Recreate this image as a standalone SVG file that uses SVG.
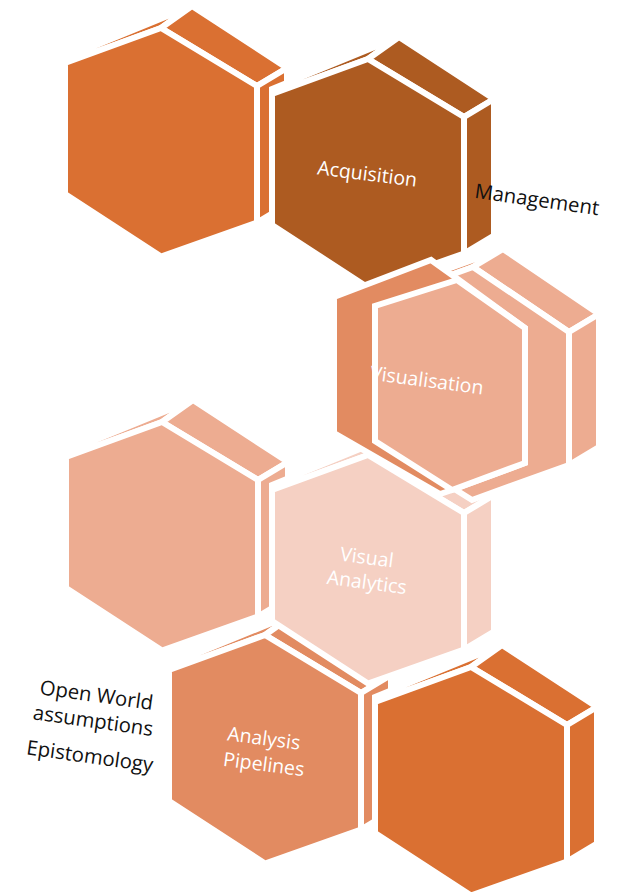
<svg xmlns="http://www.w3.org/2000/svg" xmlns:xlink="http://www.w3.org/1999/xlink" width="621" height="892" viewBox="0 0 621 892">
  <style>
    .face { stroke: #ffffff; stroke-width: 6; stroke-linejoin: miter; }
    .lbl { font-family: "Open Sans", "Noto Sans", "Liberation Sans", sans-serif; font-size: 19.5px; }
    .in { fill: #ffffff; text-anchor: middle; }
    .out { fill: #111111; font-size: 20.3px; }
  </style>
  <defs>
    <!-- hexagonal prism, origin at the top vertex of the front face -->
    <g id="prism" class="face">
      <polygon points="-96,32 0,-3 31,-25 -96,27"/>
      <polygon points="0,-3 96,55 126,37 31,-25"/>
      <polygon points="96,55 96,191.5 126,173.5 126,37"/>
      <polygon points="0,-3 96,55 96,191.5 0,225.5 -96,163 -96,32"/>
    </g>
  </defs>
  <rect width="621" height="892" fill="#ffffff"/>

  <g id="node-top-left">
    <use xlink:href="#prism" href="#prism" x="161" y="31" fill="#DA7032"/>
  </g>

  <g id="node-acquisition">
    <use xlink:href="#prism" href="#prism" x="368" y="62" fill="#AD5B21"/>
    <text class="lbl in" transform="translate(366.5,180.5) rotate(7.3)">Acquisition</text>
    <text class="lbl out" text-anchor="middle" transform="translate(536,206.5) rotate(8)">Management</text>
  </g>

  <g id="node-middle-left">
    <use xlink:href="#prism" href="#prism" x="162" y="425" fill="#EDAC91"/>
  </g>

  <g id="node-analysis-pipelines">
    <use xlink:href="#prism" href="#prism" x="265" y="638" fill="#E28B61"/>
    <text class="lbl in" transform="translate(263,745) rotate(7.5)">Analysis</text>
    <text class="lbl in" transform="translate(263,771) rotate(7.5)">Pipelines</text>
  </g>

  <g id="notes">
    <text class="lbl out" text-anchor="end" transform="translate(152,710) rotate(8)">Open World</text>
    <text class="lbl out" text-anchor="end" transform="translate(152,736) rotate(8)">assumptions</text>
    <text class="lbl out" text-anchor="end" transform="translate(152,772) rotate(8)">Epistomology</text>
  </g>

  <g id="node-bottom-right">
    <use xlink:href="#prism" href="#prism" x="471" y="670" fill="#DA7032"/>
  </g>

  <g id="node-visual-analytics">
    <use xlink:href="#prism" href="#prism" x="368" y="458" fill="#F5D0C3"/>
    <text class="lbl in" transform="translate(366,564) rotate(7.5)">Visual</text>
    <text class="lbl in" transform="translate(366,589) rotate(7.5)">Analytics</text>
  </g>

  <g id="node-visualisation" class="face">
    <!-- outer prism -->
    <polygon fill="#E28B61" points="376,302 473,267 503,249 406,284"/>
    <polygon fill="#EDAC91" points="473,267 569,332 599,314 503,249"/>
    <polygon fill="#EDAC91" points="569,332 569,465 599,447 599,314"/>
    <polygon fill="#EDAC91" points="473,267 569,332 569,465 472,500 376,440 376,302"/>
    <!-- turned inner prism: shaded side and front -->
    <polygon fill="#E28B61" points="334,297 431,260 459,280 525,328 525,463 452,490 440,494 334,433"/>
    <polygon fill="#EDAC91" points="457,280 525,328 525,463 452,490 375,441 375,306"/>
    <text class="lbl in" stroke="none" transform="translate(426,387) rotate(7.5)">Visualisation</text>
  </g>
</svg>
